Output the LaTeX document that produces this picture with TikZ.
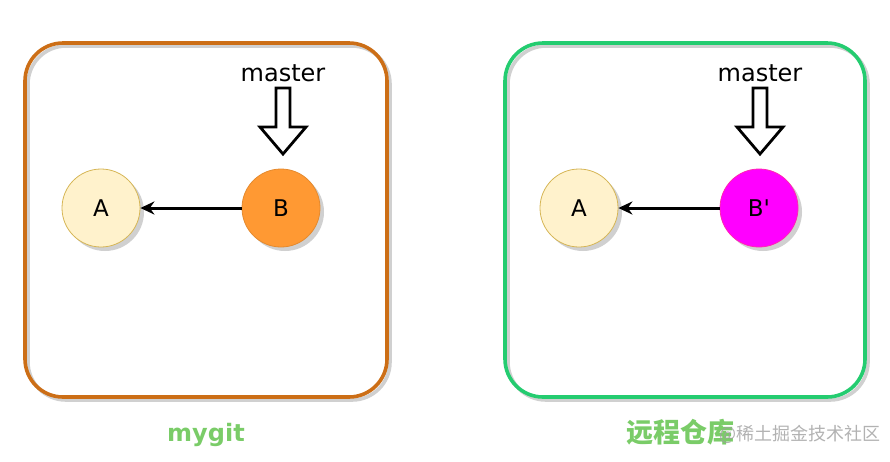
\documentclass[tikz,border=0pt]{standalone}
\usepackage{fontspec}
\setmainfont{DejaVu Sans}[Ligatures=TeXOff]
\newfontfamily\cjk{Noto Sans CJK SC}
\usetikzlibrary{arrows.meta}
\definecolor{boxorange}{RGB}{204,110,22}
\definecolor{boxgreen}{RGB}{36,204,112}
\definecolor{afill}{RGB}{255,242,204}
\definecolor{aline}{RGB}{214,182,86}
\definecolor{bfill}{RGB}{255,153,51}
\definecolor{bpfill}{RGB}{255,0,255}
\definecolor{labgreen}{RGB}{122,204,104}
\definecolor{shadowgray}{RGB}{208,208,208}
\tikzset{
  repobox/.style={line width=3.6pt, rounded corners=38pt},
  repoboxshadow/.style={draw=shadowgray, line width=3.6pt, rounded corners=38pt},
  commit/.style={circle, minimum size=78pt, inner sep=0pt, font=\fontsize{23}{23}\selectfont, line width=0.8pt},
  commitshadow/.style={circle, minimum size=78pt, inner sep=0pt, fill=shadowgray},
  branchlabel/.style={font=\fontsize{24}{24}\selectfont},
  parentarrow/.style={-{Stealth[length=14pt,width=13pt]}, line width=3pt},
  hollowarrow/.style={draw=black, fill=white, line width=2.8pt, line join=miter},
  repolabel/.style={font=\bfseries\fontsize{24}{24}\selectfont, text=labgreen},
  watermark/.style={font=\cjk\fontsize{18}{18}\selectfont, text=gray!75, opacity=0.8}
}
\begin{document}
\begin{tikzpicture}[x=1pt,y=-1pt]
\useasboundingbox (0,0) rectangle (890,461);
% boxes
\draw[repoboxshadow] (28,46) rectangle (390,400);
\draw[repobox, draw=boxorange] (25,43) rectangle (387,397);
\draw[repoboxshadow] (508,46) rectangle (868,400);
\draw[repobox, draw=boxgreen] (505,43) rectangle (865,397);
% left repo
\node[commitshadow] at (105,212) {};
\node[commitshadow] at (285,212) {};
\node[commit, fill=afill, draw=aline] (A1) at (101,208) {A};
\node[commit, fill=bfill, draw=bfill!90!black] (B1) at (281,208) {B};
\draw[parentarrow] (B1) -- (A1);
\node[branchlabel] (M1) at (283,73) {master};
\draw[hollowarrow] ([shift={(-7,15)}]M1.center) -- ++(14,0) -- ++(0,39) -- ++(16,0) -- ++(-23,27) -- ++(-23,-27) -- ++(16,0) -- cycle;
% right repo
\node[commitshadow] at (583,212) {};
\node[commitshadow] at (763,212) {};
\node[commit, fill=afill, draw=aline] (A2) at (579,208) {A};
\node[commit, fill=bpfill, draw=bpfill!70!orange] (B2) at (759,208) {B'};
\draw[parentarrow] (B2) -- (A2);
\node[branchlabel] (M2) at (760,73) {master};
\draw[hollowarrow] ([shift={(-7,15)}]M2.center) -- ++(14,0) -- ++(0,39) -- ++(16,0) -- ++(-23,27) -- ++(-23,-27) -- ++(16,0) -- cycle;
% labels
\node[repolabel] (L1) at (206,435) {mygit};
\node[repolabel, font=\cjk\bfseries\fontsize{27}{27}\selectfont] (L2) at (680,432) {远程仓库};
\node[watermark, anchor=west] (W) at (716,434) {@稀土掘金技术社区};
\end{tikzpicture}
\end{document}
